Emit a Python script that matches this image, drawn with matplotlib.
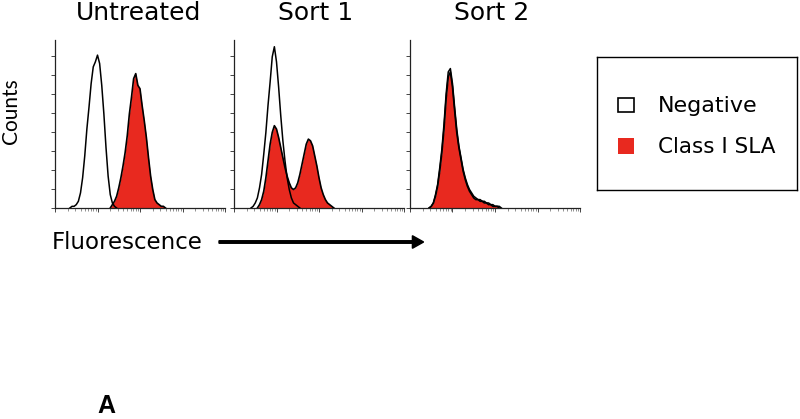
import matplotlib
matplotlib.use("Agg")
import matplotlib.pyplot as plt
import matplotlib.ticker as mticker
from matplotlib.patches import Rectangle, FancyArrow
import numpy as np

plt.rcParams['font.family'] = ['DejaVu Sans']

# Data (log10 fluorescence, relative counts)
titles = ["Untreated", "Sort 1", "Sort 2"]

neg_untreated_x = [0.35, 0.40, 0.45, 0.50, 0.55, 0.60, 0.65, 0.70, 0.75, 0.80, 0.85, 0.90,
                   0.95, 1.00, 1.05, 1.10, 1.15, 1.20, 1.25, 1.30, 1.35, 1.40, 1.45]
neg_untreated_y = [0, 1, 1, 2, 4, 9, 18, 31, 47, 60, 74, 84, 87, 91, 86, 73, 56, 36, 19, 8, 3, 1, 0]

sla_untreated_x = [1.30, 1.35, 1.40, 1.45, 1.50, 1.55, 1.60, 1.65, 1.70, 1.75, 1.80, 1.85, 1.90,
                   1.95, 2.00, 2.05, 2.10, 2.15, 2.20, 2.25, 2.30, 2.35, 2.40, 2.45, 2.50, 2.55, 2.60]
sla_untreated_y = [0, 2, 4, 7, 12, 18, 25, 33, 43, 56, 66, 77, 80, 73, 71, 61, 52, 42, 30, 19,
                   11, 5, 3, 2, 1, 1, 0]

neg_sort1_x = [0.40, 0.45, 0.50, 0.55, 0.60, 0.65, 0.70, 0.75, 0.80, 0.85, 0.90, 0.95,
               1.00, 1.05, 1.10, 1.15, 1.20, 1.25, 1.30, 1.35, 1.40, 1.45, 1.50, 1.55]
neg_sort1_y = [0, 1, 3, 6, 12, 20, 32, 45, 61, 75, 90, 96, 87, 72, 55, 40, 28, 18, 11, 6, 3, 2, 1, 0]

sla_sort1_x = [0.55, 0.60, 0.65, 0.70, 0.75, 0.80, 0.85, 0.90, 0.95, 1.00, 1.05, 1.10, 1.15,
               1.20, 1.25, 1.30, 1.35, 1.40, 1.45, 1.50, 1.55, 1.60, 1.65, 1.70, 1.75, 1.80,
               1.85, 1.90, 1.95, 2.00, 2.05, 2.10, 2.15, 2.20, 2.25, 2.30, 2.35]
sla_sort1_y = [0, 2, 5, 10, 18, 28, 38, 45, 49, 47, 42, 36, 30, 24, 19, 15, 12, 11, 12, 15,
               20, 26, 32, 38, 41, 40, 37, 31, 25, 18, 12, 8, 5, 3, 2, 1, 0]

neg_sort2_x = [0.45, 0.50, 0.55, 0.60, 0.65, 0.70, 0.75, 0.80, 0.85, 0.90, 0.95, 1.00, 1.05,
               1.10, 1.15, 1.20, 1.25, 1.30, 1.35, 1.40, 1.45, 1.50, 1.55, 1.60, 1.65, 1.70,
               1.75, 1.80, 1.85, 1.90, 1.95, 2.00, 2.05, 2.10, 2.15]
neg_sort2_y = [0, 1, 3, 8, 14, 24, 35, 50, 68, 81, 83, 74, 60, 47, 37, 30, 23, 18, 14, 11, 9,
               7, 6, 5, 5, 4, 4, 3, 3, 2, 2, 1, 1, 1, 0]

sla_sort2_x = [0.45, 0.50, 0.55, 0.60, 0.65, 0.70, 0.75, 0.80, 0.85, 0.90, 0.95, 1.00, 1.05,
               1.10, 1.15, 1.20, 1.25, 1.30, 1.35, 1.40, 1.45, 1.50, 1.55, 1.60, 1.65, 1.70,
               1.75, 1.80, 1.85, 1.90, 1.95, 2.00, 2.05, 2.10]
sla_sort2_y = [0, 1, 3, 7, 13, 22, 33, 47, 65, 78, 81, 72, 58, 45, 36, 29, 22, 17, 13, 10, 8,
               6, 5, 5, 4, 4, 3, 3, 2, 2, 1, 1, 1, 0]

panels = [
    (neg_untreated_x, neg_untreated_y, sla_untreated_x, sla_untreated_y),
    (neg_sort1_x, neg_sort1_y, sla_sort1_x, sla_sort1_y),
    (neg_sort2_x, neg_sort2_y, sla_sort2_x, sla_sort2_y),
]

red = '#e8291f'
W, H = 800, 419

fig = plt.figure(figsize=(8, 4.19), dpi=100)


def fx(px):
    return px / W


def fy(py):
    return 1 - py / H


lefts = [55, 234, 410]
title_x = [139, 316, 492]
for i, (nx, ny, sx, sy) in enumerate(panels):
    ax = fig.add_axes([fx(lefts[i]), fy(208), 170 / W, 168 / H])
    nxv = 10 ** np.array(nx)
    sxv = 10 ** np.array(sx)
    ax.fill_between(nxv, ny, color='white', zorder=1)
    ax.fill_between(sxv, sy, color=red, lw=0, zorder=2)
    ax.plot(sxv, sy, color='black', lw=1.2, zorder=3)
    ax.plot(nxv, ny, color='black', lw=1.1, zorder=4)
    ax.set_xscale('log')
    ax.set_xlim(1, 1e4)
    ax.set_ylim(0, 100)
    ax.spines['top'].set_visible(False)
    ax.spines['right'].set_visible(False)
    for s in ['left', 'bottom']:
        ax.spines[s].set_linewidth(0.9)
        ax.spines[s].set_color('#222222')
    ax.xaxis.set_major_locator(mticker.LogLocator(base=10, numticks=10))
    ax.xaxis.set_minor_locator(mticker.LogLocator(base=10, subs=np.arange(2, 10), numticks=10))
    ax.yaxis.set_major_locator(mticker.MultipleLocator(11.3))
    ax.tick_params(axis='both', which='major', length=3, width=0.7, color='#444444',
                   labelbottom=False, labelleft=False)
    ax.tick_params(axis='both', which='minor', length=2, width=0.5, color='#666666',
                   labelbottom=False, labelleft=False)
    fig.text(fx(title_x[i]), fy(13), titles[i], ha='center', va='center', fontsize=18)

fig.text(fx(11), fy(111), "Counts", rotation=90, ha='center', va='center', fontsize=15,
         family='Lato')
fig.text(fx(52), fy(242), "Fluorescence", ha='left', va='center', fontsize=16.5)
fig.patches.append(FancyArrow(
    fx(219), fy(242), fx(422 - 219) - 0.012, 0, width=0.006, head_width=0.03,
    head_length=0.014, length_includes_head=False, color='black', transform=fig.transFigure))

# legend box
axl = fig.add_axes([fx(597), fy(190), 200 / W, 133 / H])
axl.set_xlim(0, 200)
axl.set_ylim(133, 0)
axl.set_xticks([])
axl.set_yticks([])
for s in axl.spines.values():
    s.set_linewidth(1.0)
axl.add_patch(Rectangle((21, 41), 16, 14, facecolor='white', edgecolor='black', lw=1.2))
axl.add_patch(Rectangle((21, 81), 16, 16, facecolor=red, edgecolor='none'))
axl.text(61, 49, "Negative", ha='left', va='center', fontsize=16)
axl.text(61, 90, "Class I SLA", ha='left', va='center', fontsize=15.5)

fig.text(fx(97), fy(418), "A", ha='left', va='bottom', fontsize=18,
         fontweight='bold', family='Liberation Sans')

fig.savefig("out.png", dpi=100)
